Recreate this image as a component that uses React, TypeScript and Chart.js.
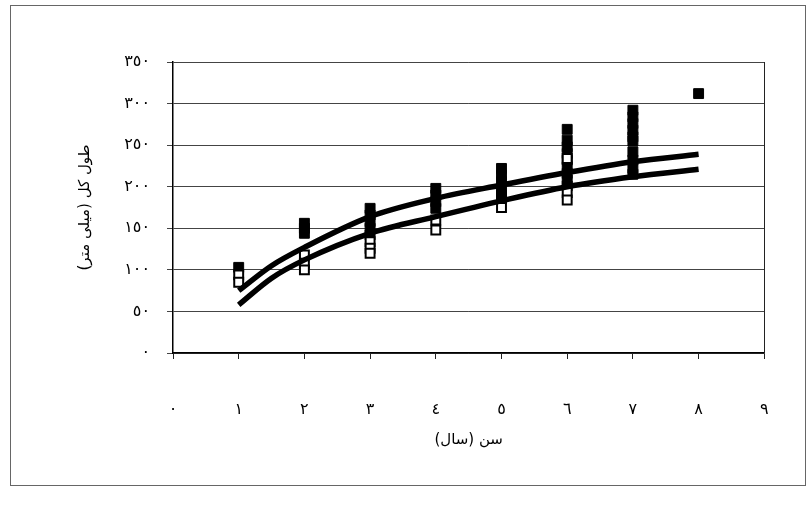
import React, { useEffect, useRef } from 'react';
import { Chart, registerables } from 'chart.js';

Chart.register(...registerables);

// Tick labels and titles (Persian / Arabic-Indic digits)
const xTickLabels = ['٠', '١', '٢', '٣', '٤', '٥', '٦', '٧', '٨', '٩'];
const yTickLabels = ['٠', '٥٠', '١٠٠', '١٥٠', '٢٠٠', '٢٥٠', '٣٠٠', '٣٥٠'];
const xTitle = 'سن (سال)';
const yTitle = 'طول کل (میلی متر)';

// Observed lengths, filled squares
const filledAges = [
  1,
  2, 2, 2,
  3, 3, 3, 3, 3,
  4, 4, 4, 4,
  5, 5, 5, 5, 5, 5,
  6, 6, 6, 6, 6, 6, 6, 6, 6,
  7, 7, 7, 7, 7, 7, 7, 7, 7, 7,
  8,
];
const filledLengths = [
  103,
  156, 150, 144,
  174, 166, 158, 150, 142,
  198, 190, 182, 174,
  222, 214, 206, 198, 190, 186,
  269, 256, 248, 240, 232, 224, 216, 208, 201,
  292, 284, 276, 268, 260, 255, 242, 232, 222, 215,
  312,
];

// Observed lengths, open squares
const openAges = [1, 1, 2, 2, 2, 3, 3, 3, 4, 4, 5, 6, 6, 6];
const openLengths = [94, 85, 118, 108, 100, 134, 126, 120, 160, 148, 175, 234, 193, 184];

// Fitted growth curves
const curveAges = [1, 1.5, 2, 3, 4, 5, 6, 7, 8];
const upperCurve = [75, 105, 127, 164, 186, 202, 217, 230, 239];
const lowerCurve = [58, 90, 112, 144, 164, 183, 200, 212, 221];

const FONT = "'DejaVu Sans', sans-serif";

const toXY = (xs: number[], ys: number[]) => xs.map((x, i) => ({ x, y: ys[i] }));

const framePlugin = {
  id: 'frame',
  beforeDraw(chart: any) {
    const ctx = chart.ctx;
    ctx.save();
    ctx.strokeStyle = '#666';
    ctx.lineWidth = 1;
    ctx.strokeRect(10.5, 5.5, 795, 480);
    ctx.restore();
  },
  beforeDatasetsDraw(chart: any) {
    const { ctx, chartArea } = chart;
    ctx.save();
    ctx.strokeStyle = '#222';
    ctx.lineWidth = 1;
    ctx.beginPath();
    ctx.moveTo(Math.round(chartArea.right) + 0.5, chartArea.top);
    ctx.lineTo(Math.round(chartArea.right) + 0.5, chartArea.bottom);
    ctx.stroke();
    ctx.restore();
  },
};

export default function App() {
  const canvasRef = useRef<HTMLCanvasElement | null>(null);

  useEffect(() => {
    if (!canvasRef.current) return;
    const chart = new Chart(canvasRef.current, {
      type: 'scatter',
      data: {
        datasets: [
          {
            label: 'upper',
            data: toXY(curveAges, upperCurve),
            showLine: true,
            borderColor: '#000',
            borderWidth: 5.5,
            pointRadius: 0,
            tension: 0.4,
            cubicInterpolationMode: 'monotone',
            order: 0,
          },
          {
            label: 'lower',
            data: toXY(curveAges, lowerCurve),
            showLine: true,
            borderColor: '#000',
            borderWidth: 5.5,
            pointRadius: 0,
            tension: 0.4,
            cubicInterpolationMode: 'monotone',
            order: 0,
          },
          {
            label: 'open',
            data: toXY(openAges, openLengths),
            pointStyle: 'rect',
            pointRadius: 6.3,
            backgroundColor: '#fff',
            borderColor: '#000',
            borderWidth: 2,
            order: 1,
          },
          {
            label: 'filled',
            data: toXY(filledAges, filledLengths),
            pointStyle: 'rect',
            pointRadius: 7,
            backgroundColor: '#000',
            borderColor: '#000',
            borderWidth: 1,
            order: 2,
          },
        ],
      },
      options: {
        animation: false,
        responsive: true,
        maintainAspectRatio: false,
        events: [],
        layout: { padding: { top: 62, right: 37, bottom: 56, left: 0 } },
        plugins: {
          legend: { display: false },
          tooltip: { enabled: false },
        },
        scales: {
          x: {
            type: 'linear',
            min: 0,
            max: 9,
            afterFit: (scale: any) => {
              scale.height = 100;
            },
            ticks: {
              stepSize: 1,
              color: '#000',
              padding: 41.4,
              font: { family: FONT, size: 16 },
              callback: (v: any) => xTickLabels[Math.round(Number(v))] ?? '',
            },
            grid: {
              drawOnChartArea: false,
              drawTicks: true,
              tickLength: 6,
              color: '#222',
            },
            border: { display: true, color: '#000', width: 1.5 },
            title: {
              display: true,
              text: xTitle,
              color: '#000',
              font: { family: FONT, size: 15 },
              padding: { top: 0, bottom: 4 },
            },
          },
          y: {
            type: 'linear',
            min: 0,
            max: 350,
            afterFit: (scale: any) => {
              scale.width = 173;
            },
            ticks: {
              stepSize: 50,
              color: '#000',
              padding: 17,
              font: { family: FONT, size: 16 },
              callback: (v: any) => yTickLabels[Math.round(Number(v) / 50)] ?? '',
            },
            grid: {
              drawOnChartArea: true,
              drawTicks: true,
              tickLength: 6,
              color: '#444',
              lineWidth: 1,
            },
            border: { display: true, color: '#000', width: 1.5 },
            title: {
              display: true,
              text: yTitle,
              color: '#000',
              font: { family: FONT, size: 15 },
              padding: { top: 76, bottom: 0 },
            },
          },
        },
      },
      plugins: [framePlugin],
    });
    return () => chart.destroy();
  }, []);

  return (
    <div style={{ position: 'fixed', left: 0, top: 0, width: 810, height: 509, background: '#fff' }}>
      <canvas ref={canvasRef} />
    </div>
  );
}
